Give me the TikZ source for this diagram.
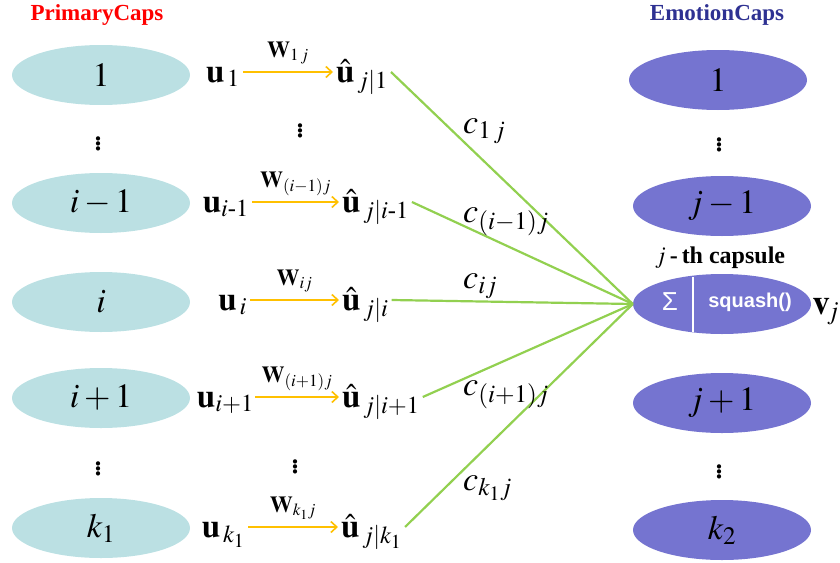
\documentclass[tikz,border=0pt]{standalone}
\usepackage{amsmath}
\usepackage{mathptmx}
\usepackage[no-math]{fontspec}
\setmainfont{Liberation Serif}
\setsansfont{Liberation Sans}
\usetikzlibrary{arrows.meta, positioning, shapes.geometric}
\definecolor{pcyan}{RGB}{187,224,227}
\definecolor{epurple}{RGB}{117,116,208}
\definecolor{enavy}{RGB}{46,49,146}
\definecolor{wgold}{RGB}{255,192,0}
\definecolor{lgreen}{RGB}{146,208,80}

\begin{document}
\begin{tikzpicture}[x=1pt, y=-1pt,
  pcap/.style={ellipse, fill=pcyan, minimum width=178pt, minimum height=60pt, inner sep=0pt, font=\fontsize{34}{40}\selectfont},
  ecap/.style={pcap, fill=epurple},
  title/.style={font=\bfseries\fontsize{23}{28}\selectfont},
  ulab/.style={inner sep=3pt, text height=22pt, text depth=2pt, font=\fontsize{33}{38}\selectfont},
  wmap/.style={-{Straight Barb[length=6pt, width=11pt]}, wgold, line width=1.6pt},
  wlab/.style={anchor=base, yshift=15pt, inner sep=0pt, text=black, font=\fontsize{23}{26}\selectfont},
  route/.style={lgreen, line width=2.2pt},
  clab/.style={anchor=base west, inner sep=0pt, font=\fontsize{34}{38}\selectfont},
  vdot/.style={font=\fontsize{36}{40}\selectfont}]
  \useasboundingbox (0,0) rectangle (840,562);

  \node[title, text=red] (ptitle) at (97,15) {PrimaryCaps};
  \node[title, text=enavy] (etitle) at (717,15) {EmotionCaps};

  % primary capsules
  \node[pcap] (p1) at (101,75) {$1$};
  \node[vdot] (pd1) at (98,141) {$\vdots$};
  \node[pcap] (pim) at (101,203) {$i-1$};
  \node[pcap] (pi) at (101,302) {$i$};
  \node[pcap] (pip) at (101,398) {$i+1$};
  \node[vdot] (pd2) at (98,466) {$\vdots$};
  \node[pcap] (pk) at (101,528) {$k_1$};

  % emotion capsules
  \node[ecap] (e1) at (718,80) {$1$};
  \node[vdot] (ed1) at (719,142) {$\vdots$};
  \node[ecap] (ejm) at (722,206) {$j-1$};
  \node[font=\fontsize{24}{28}\selectfont] (capname) at (720,258) {$j$\,\textbf{-\,th capsule}};
  \node[ecap] (cap) at (722,304) {};
  \node[ecap] (ejp) at (722,403) {$j+1$};
  \node[vdot] (ed2) at (719,469) {$\vdots$};
  \node[ecap] (ek) at (722,530) {$k_2$};

  \node[text=white, font=\sffamily\fontsize{26}{30}\selectfont] (sig) at (670,302) {Σ};
  \node[text=white, font=\sffamily\bfseries\fontsize{20}{24}\selectfont] (sq) at (750,302) {squash()};
  \draw[white, line width=1.5pt] (693,277) -- (693,332);
  \node[ulab, anchor=west, inner sep=1pt, font=\fontsize{35}{40}\selectfont] (vj) at (cap.east) {$\mathbf{v}_{\!j}$};

  % predictions
  \node[ulab, anchor=east] (u1) at (243,72) {$\mathbf{u}_{\,1}$};
  \node[ulab, anchor=east] (uim) at (252,202) {$\mathbf{u}_{i\text{-}1}$};
  \node[ulab, anchor=east] (ui) at (250,300) {$\mathbf{u}_{\,i}$};
  \node[ulab, anchor=east, inner sep=1pt] (uip) at (255,397) {$\mathbf{u}_{i+1}$};
  \node[ulab, anchor=east] (uk) at (248,527) {$\mathbf{u}_{\,k_1}$};

  \node[ulab, anchor=west] (h1) at (333,72) {$\hat{\mathbf{u}}_{\,j|1}$};
  \node[vdot] (hd1) at (300,128) {$\vdots$};
  \node[ulab, anchor=west] (him) at (339,202) {$\hat{\mathbf{u}}_{\,j|i\text{-}1}$};
  \node[ulab, anchor=west] (hi) at (339,300) {$\hat{\mathbf{u}}_{\,j|i}$};
  \node[ulab, anchor=west] (hip) at (339,397) {$\hat{\mathbf{u}}_{\,j|i+1}$};
  \node[vdot] (hd2) at (295,464) {$\vdots$};
  \node[ulab, anchor=west] (hk) at (338,527) {$\hat{\mathbf{u}}_{\,j|k_1}$};

  \draw[wmap] (u1.east) -- node[wlab] {$\mathbf{W}_{1\,j}$} (h1.west);
  \draw[wmap] (uim.east) -- node[wlab] {$\mathbf{W}_{(i-1)j}$} (him.west);
  \draw[wmap] (ui.east) -- node[wlab] {$\mathbf{W}_{ij}$} (hi.west);
  \draw[wmap] (uip.east) -- node[wlab] {$\mathbf{W}_{(i+1)j}$} (hip.west);
  \draw[wmap] (uk.east) -- node[wlab] {$\mathbf{W}_{k_1 j}$} (hk.west);

  % routing
  \foreach \h in {h1,him,hi,hip,hk}
    \draw[route] (\h.east) -- (cap.west);
  \node[clab] (c1) at (463,133) {$c_{1\,j}$};
  \node[clab] (cim) at (463,222) {$c_{(i-1)j}$};
  \node[clab] (ci) at (463,288) {$c_{ij}$};
  \node[clab] (cip) at (463,395) {$c_{(i+1)j}$};
  \node[clab] (ck) at (463,490) {$c_{k_1 j}$};
\end{tikzpicture}
\end{document}
